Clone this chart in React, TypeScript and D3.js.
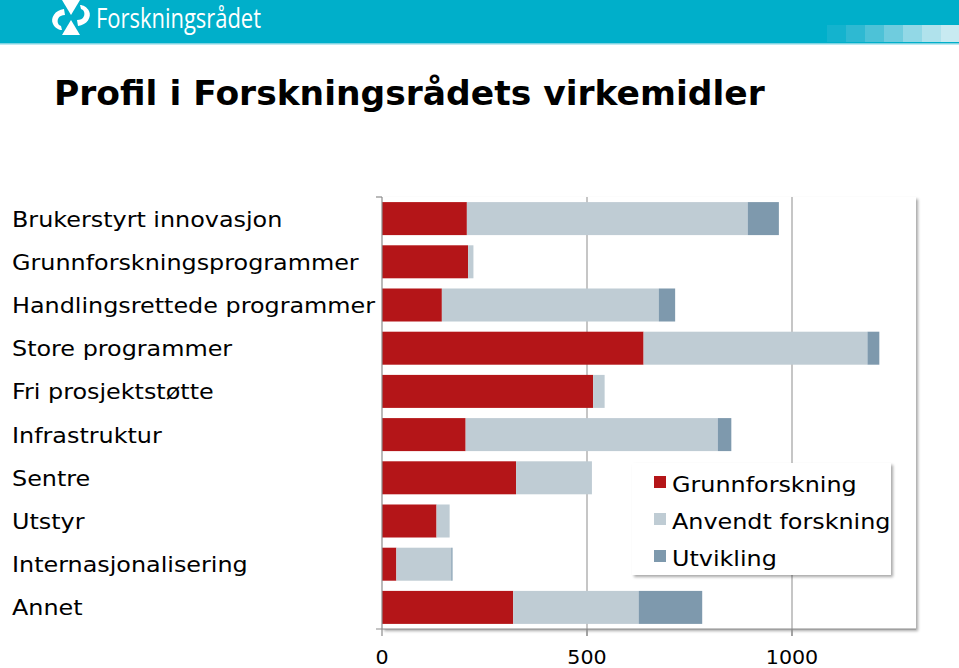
import React from "react";
import * as d3 from "d3";

const categories = [
  "Brukerstyrt innovasjon",
  "Grunnforskningsprogrammer",
  "Handlingsrettede programmer",
  "Store programmer",
  "Fri prosjektstøtte",
  "Infrastruktur",
  "Sentre",
  "Utstyr",
  "Internasjonalisering",
  "Annet",
];
const grunnforskning = [207, 210, 146, 638, 515, 204, 327, 133, 35, 320];
const anvendt = [685, 13, 529, 546, 28, 615, 185, 32, 134, 306];
const utvikling = [76, 0, 40, 29, 0, 33, 0, 0, 3, 155];
const seriesNames = ["Grunnforskning", "Anvendt forskning", "Utvikling"];
const seriesColors = ["#B41518", "#BFCCD4", "#7E99AD"];
const xTicks = [0, 500, 1000];
const gridTicks = [500, 1000];
const titleText = "Profil i Forskningsrådets virkemidler";
const logoText = "Forskningsrådet";
const headerSquares = ["#14B3CE", "#2EB9D2", "#4DC2D7", "#6FCCDE", "#92D8E6", "#B0E2EC", "#C8EAF1"];

const W = 959;
const H = 668;
const SX = 1.085; // widen DejaVu to Verdana-like width

export default function App() {
  const rows = categories.map((c, i) => ({
    cat: c,
    s0: grunnforskning[i],
    s1: anvendt[i],
    s2: utvikling[i],
  }));
  const stack = d3.stack<any>().keys(["s0", "s1", "s2"]);
  const series = stack(rows);

  const x = d3.scaleLinear().domain([0, 1300]).range([382, 915]);
  const y = d3
    .scaleBand<string>()
    .domain(categories)
    .range([197, 629])
    .paddingInner(0.236)
    .paddingOuter(0.118);

  const plotTop = 197;
  const plotBottom = 629;
  const font = "'DejaVu Sans', Verdana, sans-serif";

  const wideText = (tx: number, ty: number, content: string, size: number, anchor = "start", key?: any) => (
    <g key={key} transform={`translate(${tx},${ty}) scale(${SX},1)`}>
      <text x={0} y={0} textAnchor={anchor} fontFamily={font} fontSize={size} fill="#000">
        {content}
      </text>
    </g>
  );

  return (
    <svg
      width={W}
      height={H}
      viewBox={`0 0 ${W} ${H}`}
      style={{ position: "absolute", left: 0, top: 0, display: "block", background: "#fff" }}
    >
      <defs>
        <filter id="shadow" x="-5%" y="-5%" width="112%" height="115%">
          <feGaussianBlur in="SourceAlpha" stdDeviation="1.5" />
          <feOffset dx="2" dy="2" result="ob" />
          <feComponentTransfer>
            <feFuncA type="linear" slope="0.35" />
          </feComponentTransfer>
          <feMerge>
            <feMergeNode />
            <feMergeNode in="SourceGraphic" />
          </feMerge>
        </filter>
      </defs>

      {/* header band */}
      <rect x={0} y={0} width={W} height={43} fill="#00AFCA" />
      <rect x={0} y={43} width={W} height={1.5} fill="#7FD3E2" />
      {headerSquares.map((c, i) => (
        <rect key={i} x={827 + i * 19} y={25} width={19} height={17} fill={c} />
      ))}
      {/* logo icon */}
      <g fill="#fff">
        <path d="M62,0 L80,0 L71,15 Z" />
        <path d="M62,35 L80,35 L71,20 Z" />
        <path d="M64,9 C55,10 50,18 53,24 C55,28 59,30 62,30 L61,26 C58,25 57,22 58,19 C59,16 62,15 65,15 Z" />
        <path d="M78,26 C87,25 92,17 89,11 C87,7 83,5 80,5 L81,9 C84,10 85,13 84,16 C83,19 80,20 77,20 Z" />
      </g>
      <text
        x={96}
        y={28}
        fontFamily="'Open Sans', sans-serif"
        fontSize={27}
        fill="#fff"
        textLength={165}
        lengthAdjust="spacingAndGlyphs"
      >
        {logoText}
      </text>

      {/* title */}
      <text x={54} y={105} fontFamily={font} fontWeight="bold" fontSize={34.5} fill="#000">
        {titleText}
      </text>

      {/* plot area */}
      <rect
        x={382}
        y={plotTop}
        width={534}
        height={plotBottom - plotTop}
        fill="#fff"
        filter="url(#shadow)"
      />

      {/* gridlines */}
      {gridTicks.map((t) => (
        <line
          key={t}
          x1={x(t)}
          x2={x(t)}
          y1={plotTop}
          y2={plotBottom + 7}
          stroke="#A0A0A0"
          strokeWidth={1.2}
        />
      ))}

      {/* bars */}
      {series.map((s, si) => (
        <g key={si} fill={seriesColors[si]}>
          {s.map((d: any, i: number) =>
            d[1] - d[0] > 0 ? (
              <rect
                key={i}
                x={x(d[0])}
                y={y(categories[i])}
                width={x(d[1]) - x(d[0])}
                height={y.bandwidth()}
              />
            ) : null
          )}
        </g>
      ))}

      {/* axes */}
      <line x1={382} x2={382} y1={plotTop} y2={plotBottom} stroke="#8C8C8C" strokeWidth={1.2} />
      <line x1={376} x2={382} y1={plotTop} y2={plotTop} stroke="#8C8C8C" strokeWidth={1.2} />
      <line x1={376} x2={916} y1={plotBottom} y2={plotBottom} stroke="#8C8C8C" strokeWidth={1.2} />
      {xTicks.map((t) => (
        <g key={t}>
          <line x1={x(t)} x2={x(t)} y1={plotBottom} y2={plotBottom + 7} stroke="#8C8C8C" strokeWidth={1.2} />
          {wideText(x(t), 664, String(t), 19, "middle")}
        </g>
      ))}

      {/* category labels */}
      {categories.map((c) =>
        wideText(12, (y(c) as number) + y.bandwidth() / 2 + 8, c, 22, "start", c)
      )}

      {/* legend */}
      <rect x={632} y={463} width={259} height={112} fill="#fff" filter="url(#shadow)" />
      {seriesNames.map((n, i) => (
        <g key={n}>
          <rect x={654} y={476 + i * 37} width={12} height={12} fill={seriesColors[i]} />
          {wideText(672, 492 + i * 37, n, 22)}
        </g>
      ))}
    </svg>
  );
}
